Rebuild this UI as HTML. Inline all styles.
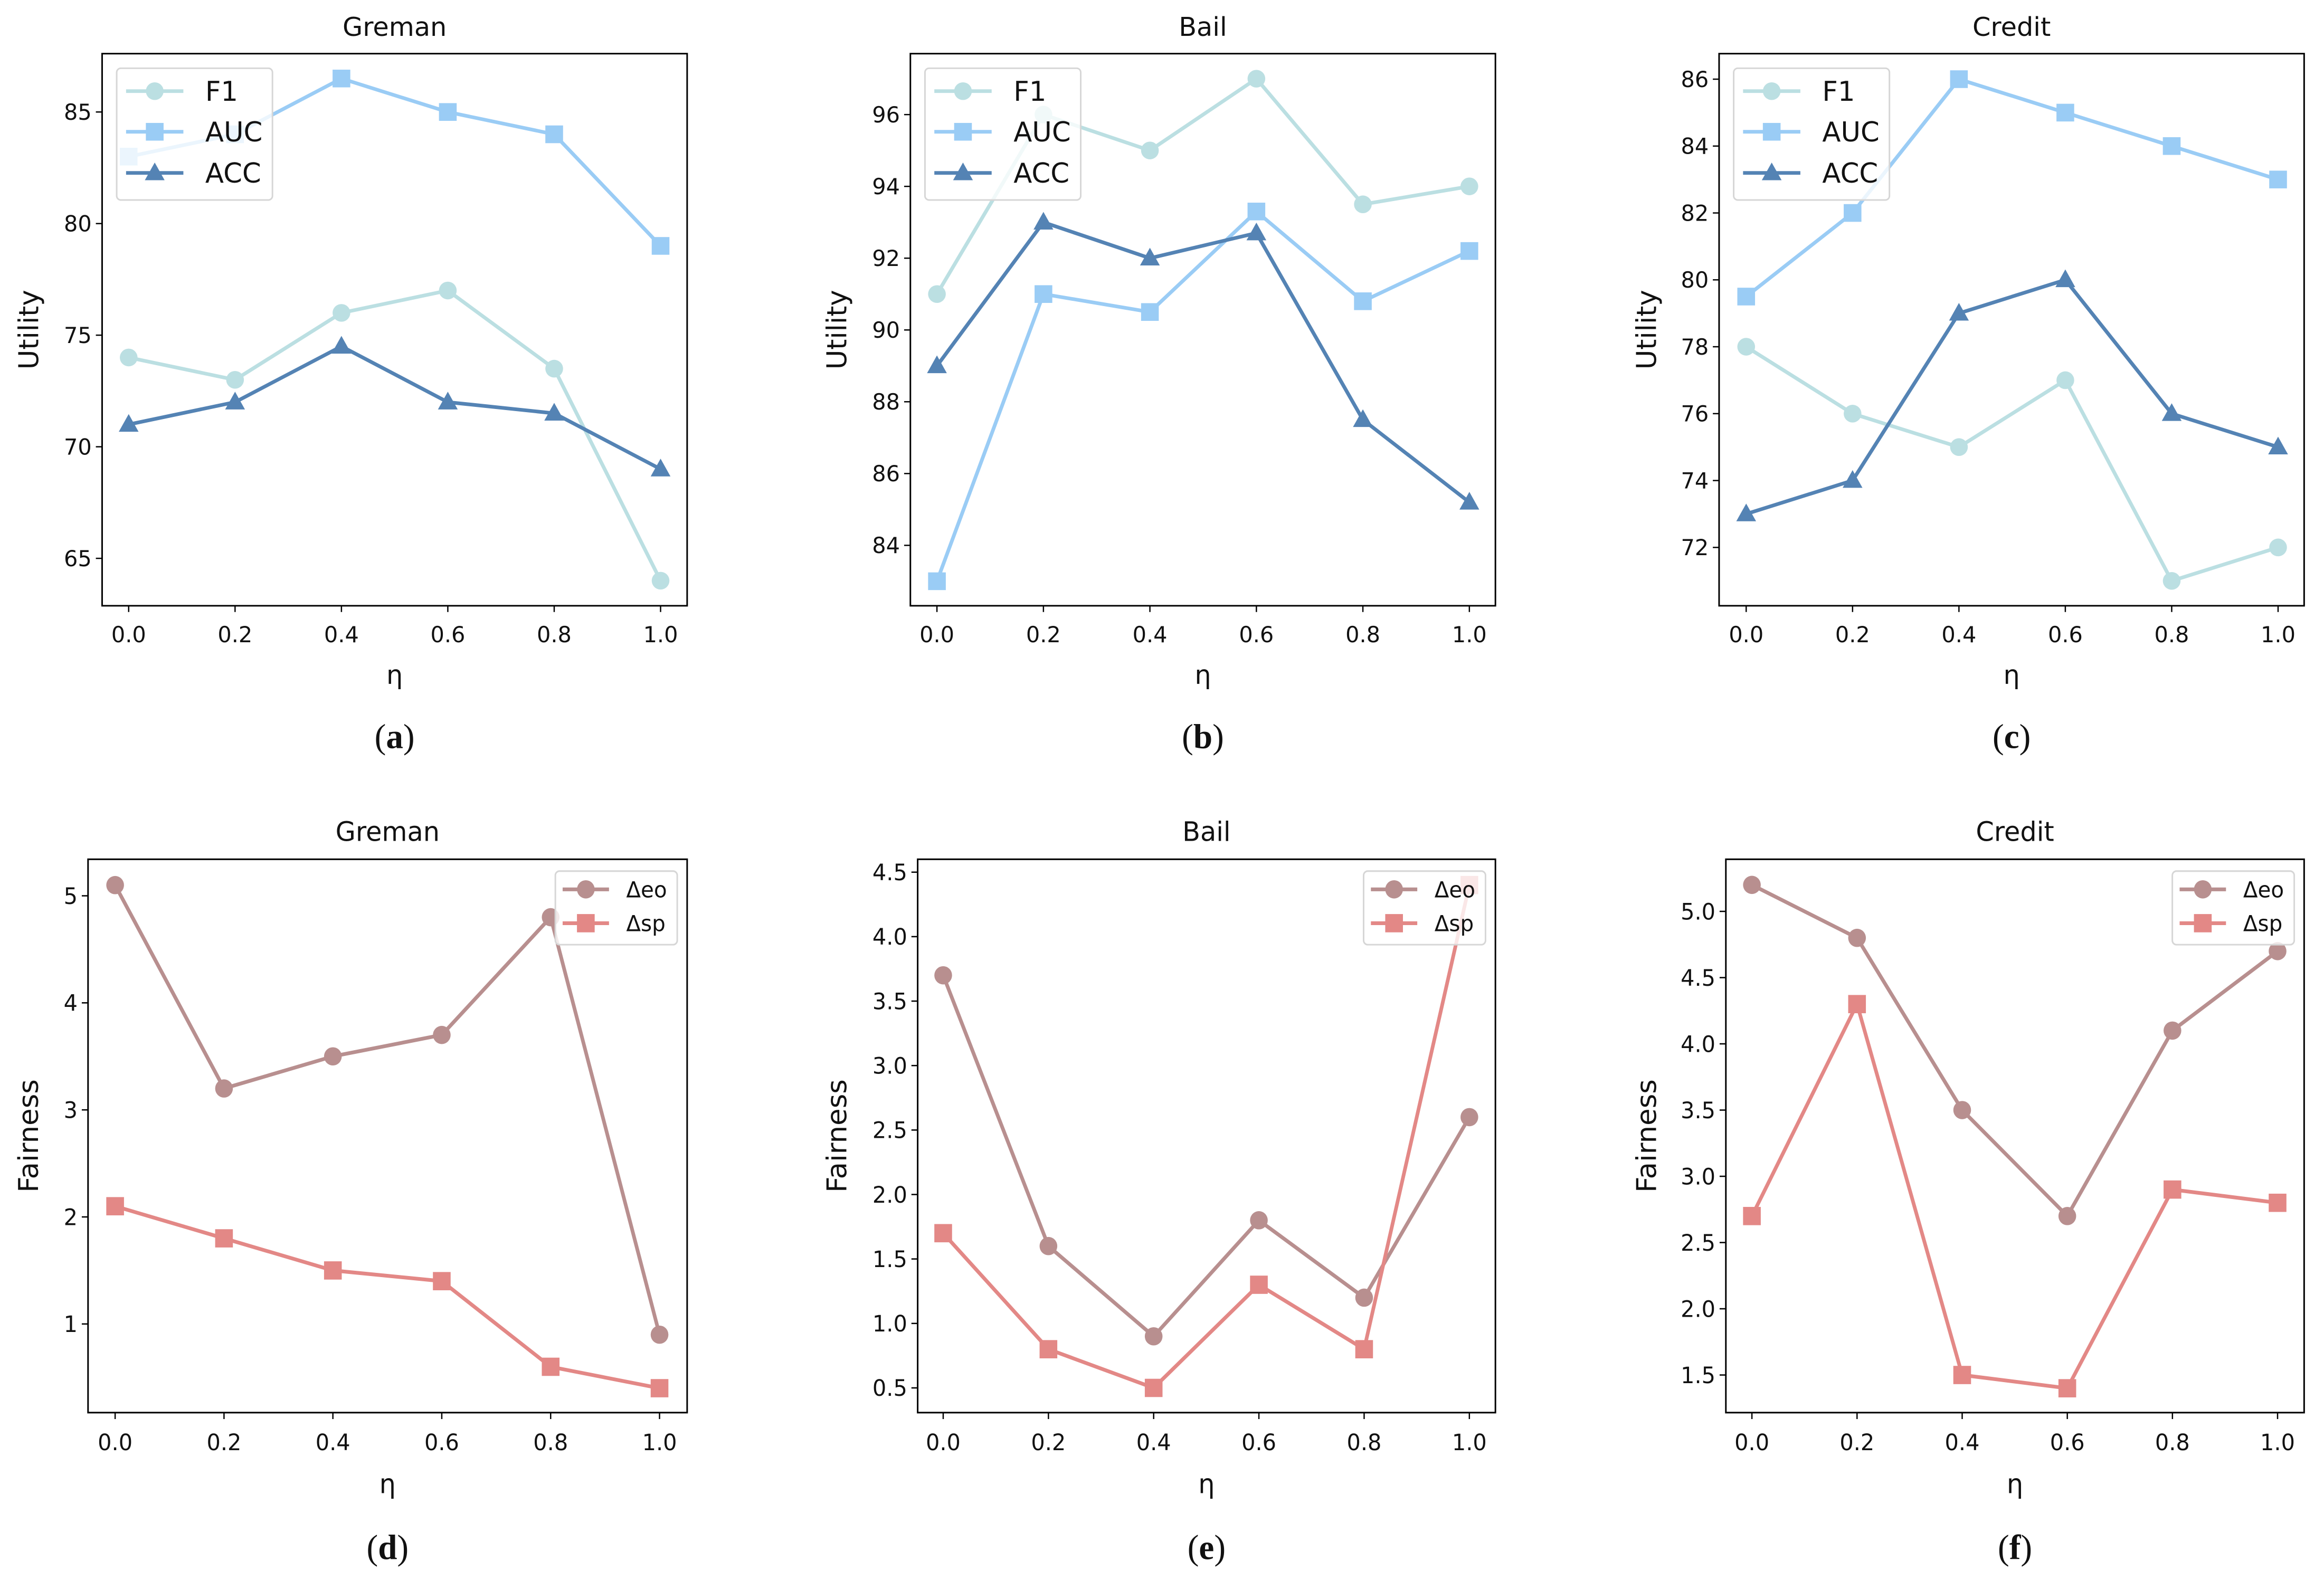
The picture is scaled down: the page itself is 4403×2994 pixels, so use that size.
<!DOCTYPE html>
<html><head><meta charset="utf-8">
<style>
html,body{margin:0;padding:0;background:#fff;}
svg{display:block;}
text{font-family:"DejaVu Sans","Liberation Sans",sans-serif;fill:#111;}
</style></head>
<body>
<svg id="fig" width="4403" height="2994" viewBox="0 0 4403 2994" xmlns="http://www.w3.org/2000/svg"></svg>
<script>
const etaValues = [0.0, 0.2, 0.4, 0.6, 0.8, 1.0];
const etaTickLabels = ["0.0","0.2","0.4","0.6","0.8","1.0"];

const germanF1 = [74, 73, 76, 77, 73.5, 64];
const germanAUC = [83, 84, 86.5, 85, 84, 79];
const germanACC = [71, 72, 74.5, 72, 71.5, 69];
const bailF1 = [91, 96, 95, 97, 93.5, 94];
const bailAUC = [83, 91, 90.5, 93.3, 90.8, 92.2];
const bailACC = [89, 93, 92, 92.7, 87.5, 85.2];
const creditF1 = [78, 76, 75, 77, 71, 72];
const creditAUC = [79.5, 82, 86, 85, 84, 83];
const creditACC = [73, 74, 79, 80, 76, 75];

const germanEO = [5.1, 3.2, 3.5, 3.7, 4.8, 0.9];
const germanSP = [2.1, 1.8, 1.5, 1.4, 0.6, 0.4];
const bailEO = [3.7, 1.6, 0.9, 1.8, 1.2, 2.6];
const bailSP = [1.7, 0.8, 0.5, 1.3, 0.8, 4.4];
const creditEO = [5.2, 4.8, 3.5, 2.7, 4.1, 4.7];
const creditSP = [2.7, 4.3, 1.5, 1.4, 2.9, 2.8];

const germanUtilTicks = [65, 70, 75, 80, 85];
const bailUtilTicks = [84, 86, 88, 90, 92, 94, 96];
const creditUtilTicks = [72, 74, 76, 78, 80, 82, 84, 86];
const germanFairTicks = [1, 2, 3, 4, 5];
const bailFairTicks = [0.5, 1.0, 1.5, 2.0, 2.5, 3.0, 3.5, 4.0, 4.5];
const creditFairTicks = [1.5, 2.0, 2.5, 3.0, 3.5, 4.0, 4.5, 5.0];

const NS = "http://www.w3.org/2000/svg";
const fig = document.getElementById('fig');
function mk(tag, attrs, parent){
  const e = document.createElementNS(NS, tag);
  for (const k in attrs) e.setAttribute(k, attrs[k]);
  (parent||fig).appendChild(e);
  return e;
}
function marker(g, shape, x, y, color){
  let m;
  if (shape === 'o') m = mk('circle', {cx:x, cy:y, r:17, fill:color}, g);
  else if (shape === 's') m = mk('rect', {x:x-17, y:y-17, width:34, height:34, fill:color}, g);
  else m = mk('polygon', {points:`${x},${y-20} ${x+19},${y+14} ${x-19},${y+14}`, fill:color}, g);
  return m;
}

const panels = [
 {id:'a', ox:0, oy:0, sy:0.987, title:'Greman', ylabel:'Utility', L:196, R:1319, T:103, B:1163, x0:247, x1:1268, v0:85, p0:215, v1:65, p1:1072,
  ticks:germanUtilTicks, fmt:0, series:[['F1',germanF1,'#bbdfe2','o'],['AUC',germanAUC,'#9accf5','s'],['ACC',germanACC,'#5483b4','^']], leg:'big', ylx:56, cap:'a'},
 {id:'b', ox:1480, oy:0, sy:0.987, title:'Bail', ylabel:'Utility', L:1728, R:2851, T:103, B:1163, x0:1779, x1:2801, v0:96, p0:220, v1:84, p1:1047,
  ticks:bailUtilTicks, fmt:0, series:[['F1',bailF1,'#bbdfe2','o'],['AUC',bailAUC,'#9accf5','s'],['ACC',bailACC,'#5483b4','^']], leg:'big', ylx:1588, cap:'b'},
 {id:'c', ox:2950, oy:0, sy:0.987, title:'Credit', ylabel:'Utility', L:3261, R:4384, T:103, B:1163, x0:3313, x1:4334, v0:86, p0:152, v1:72, p1:1051,
  ticks:creditUtilTicks, fmt:0, series:[['F1',creditF1,'#bbdfe2','o'],['AUC',creditAUC,'#9accf5','s'],['ACC',creditACC,'#5483b4','^']], leg:'big', ylx:3123, cap:'c'},
 {id:'d', ox:0, oy:1500, sy:1.018, title:'Greman', ylabel:'Fairness', L:169, R:1319, T:1626, B:2656, x0:221, x1:1266, v0:5, p0:1694, v1:1, p1:2491,
  ticks:germanFairTicks, fmt:0, series:[['Δeo',germanEO,'#b88f8f','o'],['Δsp',germanSP,'#e38886','s']], leg:'small', ylx:56, cap:'d'},
 {id:'e', ox:1480, oy:1500, sy:1.018, title:'Bail', ylabel:'Fairness', L:1742, R:2851, T:1626, B:2656, x0:1791, x1:2801, v0:4.5, p0:1650, v1:0.5, p1:2610,
  ticks:bailFairTicks, fmt:1, series:[['Δeo',bailEO,'#b88f8f','o'],['Δsp',bailSP,'#e38886','s']], leg:'small', ylx:1588, cap:'e'},
 {id:'f', ox:2950, oy:1500, sy:1.018, title:'Credit', ylabel:'Fairness', L:3274, R:4384, T:1626, B:2656, x0:3324, x1:4333, v0:5.0, p0:1723, v1:1.5, p1:2586,
  ticks:creditFairTicks, fmt:1, series:[['Δeo',creditEO,'#b88f8f','o'],['Δsp',creditSP,'#e38886','s']], leg:'small', ylx:3123, cap:'f'}
];

const SX = 0.987;
panels.forEach(P => {
  const xs = v => P.x0 + (v - etaValues[0]) / (etaValues[etaValues.length-1] - etaValues[0]) * (P.x1 - P.x0);
  const ys = v => P.p0 + (v - P.v0) / (P.v1 - P.v0) * (P.p1 - P.p0);
  const g = mk('g', {transform:`translate(${P.ox},${P.oy}) scale(${SX},${P.sy}) translate(${-P.ox},${-P.oy})`});
  
  
  const cx = (P.L + P.R) / 2;
  const t = mk('text', {x:cx, y:P.T-34, 'font-size':50, 'text-anchor':'middle'}, g);
  t.textContent = P.title;
  
  
  P.ticks.forEach(v => {
    const y = ys(v);
    mk('line', {x1:P.L-12, x2:P.L, y1:y, y2:y, stroke:'#000', 'stroke-width':2.5}, g);
    const tl = mk('text', {x:P.L-20, y:y+15, 'font-size':42, 'text-anchor':'end'}, g);
    tl.textContent = v.toFixed(P.fmt);
    
    
  });
  etaValues.forEach((v, i) => {
    const x = xs(v);
    mk('line', {x1:x, x2:x, y1:P.B, y2:P.B+12, stroke:'#000', 'stroke-width':2.5}, g);
    const tl = mk('text', {x:x, y:P.B+70, 'font-size':42, 'text-anchor':'middle'}, g);
    tl.textContent = etaTickLabels[i];
    
    
  });
  const xl = mk('text', {x:cx, y:P.B+150, 'font-size':50, 'text-anchor':'middle'}, g);
  xl.textContent = 'η';
  
  
  const yl = mk('text', {x:P.ylx, y:(P.T+P.B)/2, 'font-size':52, 'text-anchor':'middle', transform:`rotate(-90 ${P.ylx} ${(P.T+P.B)/2})`, 'dominant-baseline':'central'}, g);
  yl.textContent = P.ylabel;
  
  
  const cap = mk('text', {x:cx, y:P.B+273, 'font-size':66, 'text-anchor':'middle', style:'font-family:"Liberation Serif",serif'}, g);
  cap.innerHTML = '(<tspan font-weight="bold">' + P.cap + '</tspan>)';
  
  
  P.series.forEach(([name, vals, color, shape]) => {
    const sg = mk('g', {}, g);
    
    
    const pts = vals.map((v, i) => xs(etaValues[i]) + ',' + ys(v)).join(' ');
    const pl = mk('polyline', {points:pts, fill:'none', stroke:color, 'stroke-width':7, 'stroke-linejoin':'round'}, sg);
    
    
    vals.forEach((v, i) => {
      const m = marker(sg, shape, xs(etaValues[i]), ys(v), color);
      
      
    });
  });
  const fr = mk('rect', {x:P.L, y:P.T, width:P.R-P.L, height:P.B-P.T, fill:'none', stroke:'#000', 'stroke-width':3}, g);
  
  
  const lg = mk('g', {}, g);
  
  
  let bx, by, bw, bh, rows, lx0, lx1, tx, fs;
  if (P.leg === 'big') {
    bx = P.L + 28; by = 131; bw = 299; bh = 253; rows = [175, 253, 332];
    lx0 = bx + 18; lx1 = bx + 128; tx = bx + 170; fs = 52;
  } else {
    bw = 234; bx = P.R - 19 - bw; by = 1648; bh = 137; rows = [1682, 1745];
    lx0 = bx + 14; lx1 = bx + 103; tx = bx + 136; fs = 41;
  }
  mk('rect', {x:bx, y:by, width:bw, height:bh, rx:8, fill:'rgba(255,255,255,0.8)', stroke:'#d6d6d6', 'stroke-width':3}, lg);
  P.series.forEach(([name, vals, color, shape], i) => {
    const e = mk('g', {}, lg);
    
    
    mk('line', {x1:lx0, x2:lx1, y1:rows[i], y2:rows[i], stroke:color, 'stroke-width':7}, e);
    marker(e, shape, (lx0+lx1)/2, rows[i], color);
    const tt = mk('text', {x:tx, y:rows[i] + fs*0.36, 'font-size':fs}, e);
    tt.textContent = name;
  });
});
</script>
</body></html>
